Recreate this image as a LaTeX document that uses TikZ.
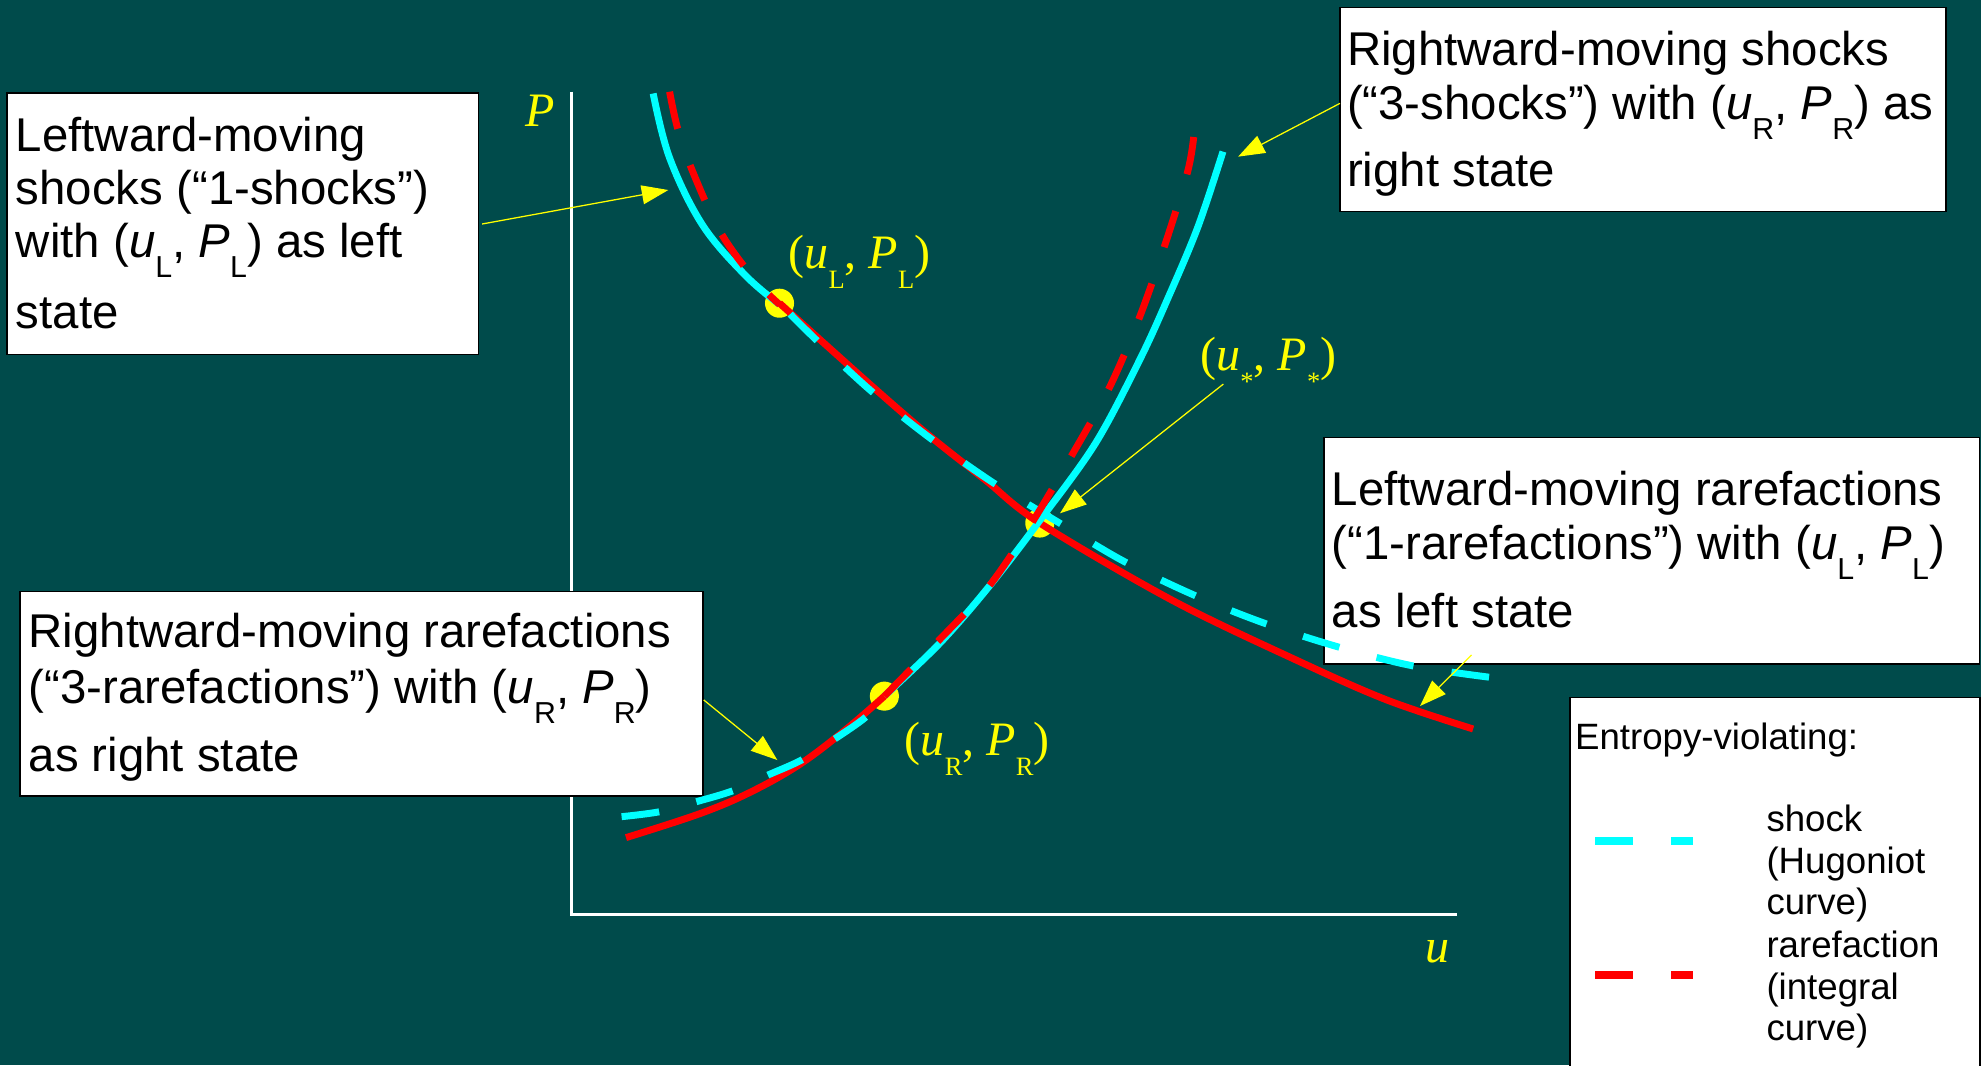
\documentclass[tikz,border=0pt]{standalone}
\usepackage{fontspec}
\setmainfont{Liberation Sans}
\newfontfamily\labserif{Liberation Serif}
\usetikzlibrary{arrows.meta}
\definecolor{bgteal}{RGB}{0,75,75}
\definecolor{cyanc}{RGB}{0,255,255}
\definecolor{redc}{RGB}{255,0,0}
\definecolor{yellowc}{RGB}{255,255,0}
\newcommand{\boxfont}{\fontsize{37.5}{42.5}\selectfont}
\newcommand{\legfont}{\fontsize{29}{33}\selectfont}
\newcommand{\labfont}{\labserif\fontsize{38}{42}\selectfont}
\newcommand{\bsub}[1]{\raisebox{-16pt}{\fontsize{24}{24}\selectfont #1}}
\newcommand{\ysub}[1]{\raisebox{-16pt}{\fontsize{21}{21}\selectfont #1}}
\begin{document}
\begin{tikzpicture}[x=1pt,y=-1pt,
  boxsty/.style={draw=black, line width=1.2pt, fill=white, inner sep=0pt, anchor=north west},
  txt/.style={anchor=base west, inner sep=0pt, text=black, font=\boxfont},
  legtxt/.style={anchor=base west, inner sep=0pt, text=black, font=\legfont},
  ylab/.style={anchor=base west, inner sep=0pt, text=yellowc, font=\labfont},
  shockline/.style={draw=cyanc, line width=5.5pt},
  rareline/.style={draw=redc, line width=5.5pt},
  violdash/.style={dash pattern=on 30pt off 30.5pt},
  dot/.style={circle, fill=yellowc, minimum size=23pt, inner sep=0pt},
  pointer/.style={draw=yellowc, line width=1pt, -{Triangle[length=21pt,width=15pt]}},
  axisline/.style={draw=white, line width=2.8pt}
]
\fill[bgteal] (0,0) rectangle (1568,843);
\useasboundingbox (0,0) rectangle (1568,843);
\clip (0,0) rectangle (1568,843);

% axes
\draw[axisline] (452.5,72.6) |- (1153,724);
\node[ylab] (Plab) at (416,100) {\textit{P}};
\node[ylab] (ulab) at (1128,762) {\textit{u}};

% boxes
\node[boxsty, minimum width=373pt, minimum height=207pt] (b1) at (5,73) {};
\node[boxsty, minimum width=479.5pt, minimum height=161.5pt] (b2) at (1060,5.3) {};
\node[boxsty, minimum width=518.5pt, minimum height=179.4pt] (b3) at (1047.5,345.6) {};
\node[boxsty, minimum width=540.7pt, minimum height=161.8pt] (b4) at (15.3,467.5) {};
\node[boxsty, minimum width=324.5pt, minimum height=300pt] (b5) at (1242,551.4) {};

% box texts
\node[txt] (b1a) at (12.4,120) {Leftward-moving};
\node[txt] (b1b) at (12.4,162) {shocks (“1-shocks”)};
\node[txt] (b1c) at (12.4,204) {with (\textit{u}\bsub{L}, \textit{P}\bsub{L}) as left};
\node[txt] (b1d) at (12.4,260) {state};

\node[txt] (b2a) at (1066,51.5) {Rightward-moving shocks};
\node[txt] (b2b) at (1066,94.5) {(“3-shocks”) with (\textit{u}\bsub{R}, \textit{P}\bsub{R}) as};
\node[txt] (b2c) at (1066,148) {right state};

\node[txt] (b3a) at (1054,400) {Leftward-moving rarefactions};
\node[txt] (b3b) at (1054,443) {(“1-rarefactions”) with (\textit{u}\bsub{L}, \textit{P}\bsub{L})};
\node[txt] (b3c) at (1054,497) {as left state};

\node[txt] (b4a) at (22.5,512.5) {Rightward-moving rarefactions};
\node[txt] (b4b) at (22.5,556.5) {(“3-rarefactions”) with (\textit{u}\bsub{R}, \textit{P}\bsub{R})};
\node[txt] (b4c) at (22.5,611) {as right state};

% legend
\node[legtxt] (lg0) at (1246.5,593) {Entropy-violating:};
\node[legtxt] (lg1) at (1398,658) {shock};
\node[legtxt] (lg2) at (1398,691) {(Hugoniot};
\node[legtxt] (lg3) at (1398,723.5) {curve)};
\node[legtxt] (lg4) at (1398,758) {rarefaction};
\node[legtxt] (lg5) at (1398,791) {(integral};
\node[legtxt] (lg6) at (1398,823.7) {curve)};
\coordinate (lgc0) at (1262.5,665.4);
\coordinate (lgc1) at (1340,665.4);
\coordinate (lgr0) at (1262.5,771.7);
\coordinate (lgr1) at (1340,771.7);
\draw[shockline, line width=6.2pt, violdash] (lgc0) -- (lgc1);
\draw[rareline, line width=6.2pt, violdash] (lgr0) -- (lgr1);

% state dots
\node[dot] (pL) at (617,240) {};
\node[dot] (pS) at (823,414) {};
\node[dot] (pR) at (700,551) {};

% 1-wave curves through (uL,PL)
\draw[shockline] plot[smooth, tension=0.6] coordinates {(517,74) (530,125) (556,178) (590,218) (617,241)};
\draw[rareline, violdash] plot[smooth, tension=0.6] coordinates {(530,72.6) (537,104) (550,140) (571,185) (598,222) (617,241)};
\draw[rareline] plot[smooth, tension=0.55] coordinates {(617,240) (690.6,306) (736.5,345.6) (780,380) (823,414) (927.6,475) (1025,522) (1097.6,554) (1166,577)};
\draw[shockline, violdash] plot[smooth, tension=0.55] coordinates {(1178.6,536) (1118,527) (1059,512) (1000,493) (945,471) (889,444) (837,413) (786,382) (736.5,347) (689,309) (645,268) (617,240)};

% 3-wave curves through (uR,PR)
\draw[shockline] plot[smooth, tension=0.55] coordinates {(700,551) (744,509) (783,464) (823,412) (867,351) (902,285) (924,237) (948,180) (968,120)};
\draw[rareline, violdash] plot[smooth, tension=0.55] coordinates {(700,551) (741,509) (782,465) (816,415) (848,361) (878,307) (902,251) (922,194) (940,136) (945,107)};
\draw[rareline] plot[smooth, tension=0.6] coordinates {(700,551) (670,577) (633,605) (594,627) (554,644) (495.5,663)};
\draw[shockline, violdash] plot[smooth, tension=0.55] coordinates {(492,646.4) (522,642.5) (551.4,634.5) (580.4,625.8) (608,613.4) (634.5,601.5) (661.4,584.4) (685.6,567.3) (700,551)};

% point labels
\node[ylab] (lL) at (624,212.4) {(\textit{u}\ysub{L}, \textit{P}\ysub{L})};
\node[ylab] (lS) at (950,293) {(\textit{u}\ysub{*}, \textit{P}\ysub{*})};
\node[ylab] (lR) at (716,597.6) {(\textit{u}\ysub{R}, \textit{P}\ysub{R})};

% pointers
\coordinate (a1s) at (381.6,177.3);
\coordinate (a1t) at (529,150.4);
\coordinate (a2s) at (1060.6,81.8);
\coordinate (a2t) at (980,124);
\coordinate (a3s) at (968.3,304);
\coordinate (a3t) at (839,406.3);
\coordinate (a4s) at (557,554);
\coordinate (a4t) at (615.3,601.6);
\coordinate (a5s) at (1164.8,518.4);
\coordinate (a5t) at (1124,558.8);
\draw[pointer] (a1s) -- (a1t);
\draw[pointer] (a2s) -- (a2t);
\draw[pointer] (a3s) -- (a3t);
\draw[pointer] (a4s) -- (a4t);
\draw[pointer] (a5s) -- (a5t);
\end{tikzpicture}
\end{document}
